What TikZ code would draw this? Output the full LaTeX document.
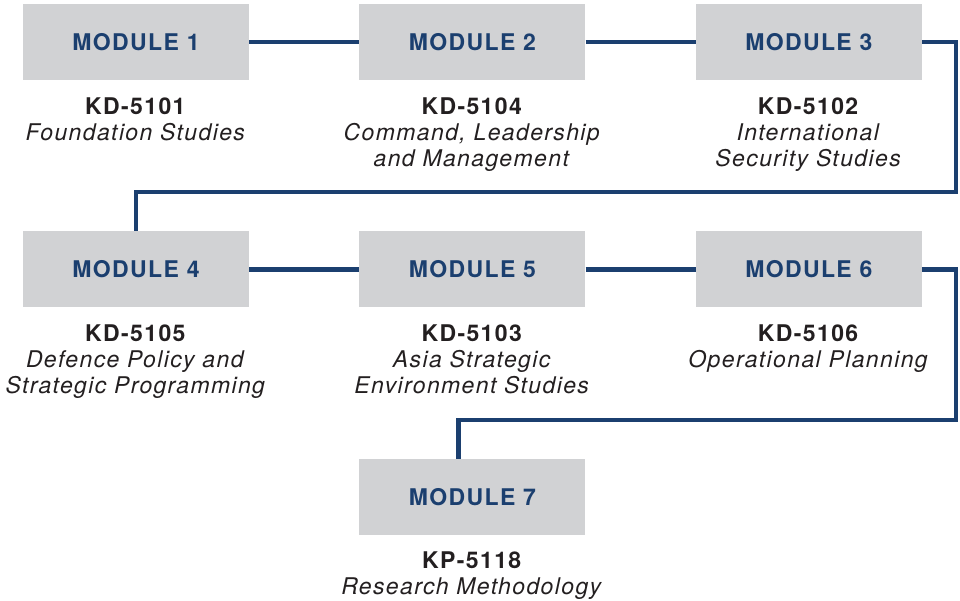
\documentclass[tikz,border=0pt]{standalone}
\usepackage{fontspec}
\setmainfont{TeX Gyre Heros}[LetterSpace=6]
\usepackage{xcolor}
\usepackage{tikz}
\usetikzlibrary{positioning,calc}

\definecolor{modblue}{HTML}{1B3F6F}
\definecolor{modgray}{HTML}{D1D2D4}
\definecolor{codeblack}{HTML}{231F20}

\begin{document}
\begin{tikzpicture}[x=1pt, y=-1pt, node distance=110pt,
    module/.style={rectangle, fill=modgray, minimum width=226pt, minimum height=76pt, inner sep=0pt,
        font=\fontsize{23}{26}\selectfont\bfseries, text=modblue},
    info/.style={below=17pt of #1, inner sep=0pt, align=center, text=codeblack,
        font=\fontsize{23}{26}\selectfont},
    link/.style={draw=modblue, line width=4.4pt}]
    \useasboundingbox (0,0) rectangle (960,600);

    \node[module] (m1) at (136,42) {MODULE 1};
    \node[module, right=of m1] (m2) {MODULE 2};
    \node[module, right=of m2] (m3) {MODULE 3};
    \node[module, below=151pt of m1] (m4) {MODULE 4};
    \node[module, right=of m4] (m5) {MODULE 5};
    \node[module, right=of m5] (m6) {MODULE 6};
    \node[module, below=151pt of m5] (m7) {MODULE 7};

    \node[info=m1] (i1) {\textbf{KD-5101}\\\textit{Foundation Studies}};
    \node[info=m2] (i2) {\textbf{KD-5104}\\\textit{Command, Leadership}\\\textit{and Management}};
    \node[info=m3] (i3) {\textbf{KD-5102}\\\textit{International}\\\textit{Security Studies}};
    \node[info=m4] (i4) {\textbf{KD-5105}\\\textit{Defence Policy and}\\\textit{Strategic Programming}};
    \node[info=m5] (i5) {\textbf{KD-5103}\\\textit{Asia Strategic}\\\textit{Environment Studies}};
    \node[info=m6] (i6) {\textbf{KD-5106}\\\textit{Operational Planning}};
    \node[info=m7] (i7) {\textbf{KP-5118}\\\textit{Research Methodology}};

    % turning points of the path
    \coordinate (t1) at (956,192);
    \coordinate (t2) at (956,420);

    \draw[link] (m1) -- (m2);
    \draw[link] (m2) -- (m3);
    \draw[link] (m3.east) -| (t1) -| (m4.north);
    \draw[link] (m4) -- (m5);
    \draw[link] (m5) -- (m6);
    \draw[link] (m6.east) -| (t2) -| ([xshift=-14pt]m7.north);
\end{tikzpicture}
\end{document}
